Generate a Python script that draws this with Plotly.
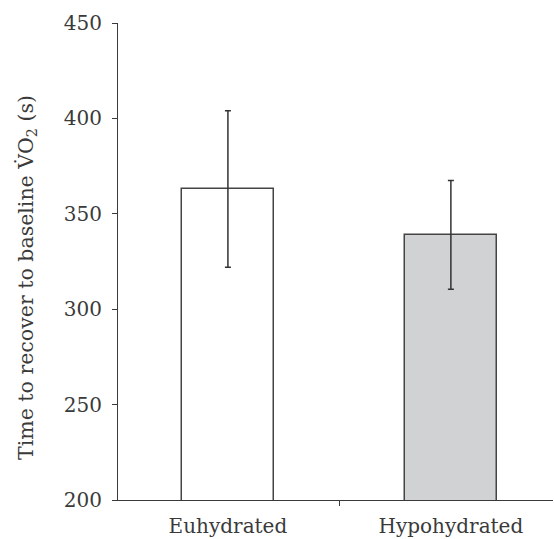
import plotly.graph_objects as go

categories = ["Euhydrated", "Hypohydrated"]
values = [363, 339]
errors = [41, 28.5]
bar_colors = ["#ffffff", "#d1d2d4"]
y_ticks = [200, 250, 300, 350, 400, 450]
y_title = "Time to recover to baseline V\u0307O<sub>2</sub> (s)"

font_family = "DejaVu Serif"
ink = "#3a3a3a"

fig = go.Figure()
fig.add_trace(go.Bar(
    x=categories, y=values,
    width=0.413,
    marker=dict(color=bar_colors, line=dict(color="#444444", width=1.5)),
    error_y=dict(type="data", array=errors, visible=True, color="#333333",
                 thickness=1.5, width=3),
))

fig.update_layout(
    width=554, height=539,
    margin=dict(l=118, r=1, t=23, b=39, autoexpand=False),
    paper_bgcolor="white", plot_bgcolor="white",
    showlegend=False,
    bargap=0,
    font=dict(family=font_family, color=ink, size=18),
)
fig.update_xaxes(
    type="category",
    range=[-0.493, 1.458],
    showline=True, linecolor=ink, linewidth=1.2,
    ticks="outside", tickson="boundaries", ticklen=5, tickcolor=ink, tickwidth=1.2,
    tickfont=dict(size=20, family=font_family, color=ink),
    ticklabelstandoff=8,
    showgrid=False, zeroline=False,
    automargin=False,
)
fig.update_yaxes(
    range=[200, 450],
    tickvals=y_ticks,
    showline=True, linecolor=ink, linewidth=1.2,
    ticks="outside", ticklen=5, tickcolor=ink, tickwidth=1.2,
    tickfont=dict(size=20, family=font_family, color=ink),
    ticklabelstandoff=6,
    showgrid=False, zeroline=False,
    automargin=False,
)
fig.add_annotation(
    text=y_title, textangle=-90,
    xref="paper", yref="paper", x=0, y=0.4654,
    xanchor="center", yanchor="middle", xshift=-91,
    showarrow=False,
    font=dict(size=20.5, family=font_family, color=ink),
)

fig.write_html(
    "out.html",
    config={"displayModeBar": False},
    post_script="document.body.style.margin='0';document.body.style.overflow='hidden';",
)
